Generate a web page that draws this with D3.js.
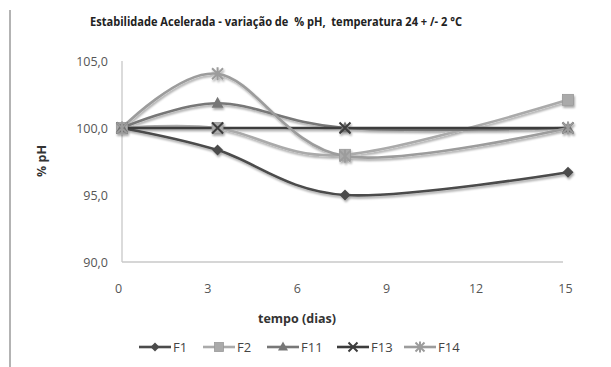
<!DOCTYPE html>
<html><head><meta charset="utf-8">
<script src="https://cdn.jsdelivr.net/npm/d3@7"></script>
<style>
html,body{margin:0;padding:0;background:#fff;}
svg{display:block;font-family:"Open Sans","Liberation Sans",sans-serif;}
</style></head>
<body>
<svg id="c" width="611" height="367"></svg>
<script>
const days = [0, 3, 7, 14];
const F1  = [100, 98.35, 95.0, 96.7];
const F2  = [100, 100, 98.0, 102.1];
const F11 = [100, 101.85, 100, 100];
const F13 = [100, 100, 100, 100];
const F14 = [100, 104.05, 97.9, 100];
const seriesNames = ["F1", "F2", "F11", "F13", "F14"];
const xTicks = [0, 3, 6, 9, 12, 15];
const yTicks = [90, 95, 100, 105];
const titleText = "Estabilidade Acelerada - variação de  % pH,  temperatura 24 + /- 2 °C";

const seriesValues = [F1, F2, F11, F13, F14];
const colors = ["#4b4b4b", "#aaaaaa", "#777777", "#3c3c3c", "#9c9c9c"];
const symbols = ["diamond", "square", "triangle", "x", "asterisk"];

const svg = d3.select("#c");
const defs = svg.append("defs");
const f = defs.append("filter").attr("id","sh").attr("x","-50%").attr("y","-50%").attr("width","200%").attr("height","200%");
f.append("feGaussianBlur").attr("in","SourceAlpha").attr("stdDeviation",1.2).attr("result","b");
f.append("feOffset").attr("in","b").attr("dx",1).attr("dy",1.5).attr("result","o");
f.append("feComponentTransfer").attr("in","o").attr("result","o2").append("feFuncA").attr("type","linear").attr("slope",0.35);
const m = f.append("feMerge"); m.append("feMergeNode").attr("in","o2"); m.append("feMergeNode").attr("in","SourceGraphic");

// left border
svg.append("line").attr("x1",10).attr("x2",10).attr("y1",10).attr("y2",367).attr("stroke","#9a9a9a").attr("stroke-width",1.5);

const x = d3.scaleLinear().domain([0, 14]).range([122, 568]);
const xAxisScale = d3.scaleLinear().domain([0, 15]).range([118, 565]);
const y = d3.scaleLinear().domain([90, 105]).range([262, 61]);

// axes lines
svg.append("line").attr("x1",122).attr("x2",563).attr("y1",y(90)).attr("y2",y(90)).attr("stroke","#c8c8c8").attr("stroke-width",1.3);
svg.append("line").attr("x1",122).attr("x2",122).attr("y1",y(90)).attr("y2",y(105)).attr("stroke","#c8c8c8").attr("stroke-width",1.3);

// x axis labels
const xa = svg.append("g").attr("transform",`translate(0,${y(90)})`)
  .call(d3.axisBottom(xAxisScale).tickValues(xTicks).tickSize(0).tickPadding(22).tickFormat(d3.format("d")));
xa.select(".domain").remove();
xa.selectAll("text").attr("fill","#555").style("font-size","12.5px").style("font-family","'Open Sans','Liberation Sans',sans-serif");

// y axis labels
const ya = svg.append("g").attr("transform","translate(108,0)")
  .call(d3.axisLeft(y).tickValues(yTicks).tickSize(0).tickPadding(0).tickFormat(d => d3.format(".1f")(d).replace(".", ",")));
ya.select(".domain").remove();
ya.selectAll("text").attr("fill","#555").style("font-size","12.5px").style("font-family","'Open Sans','Liberation Sans',sans-serif");

// title
svg.append("text").attr("x",276).attr("y",26).attr("text-anchor","middle")
  .attr("textLength",372).attr("lengthAdjust","spacingAndGlyphs")
  .style("white-space","pre")
  .style("font-size","11.5px").style("font-weight","bold").attr("fill","#222").text(titleText);

// axis titles
svg.append("text").attr("x",297).attr("y",323).attr("text-anchor","middle")
  .style("font-size","12.5px").style("font-weight","bold").attr("fill","#333").text("tempo (dias)");
svg.append("text").attr("transform","translate(46,161) rotate(-90)").attr("text-anchor","middle")
  .style("font-size","12.5px").style("font-weight","bold").attr("fill","#333").text("% pH");

function drawMarker(g, type, cx, cy, color, s) {
  if (type === "diamond") {
    g.append("path").attr("d",`M${cx},${cy-s}L${cx+s},${cy}L${cx},${cy+s}L${cx-s},${cy}Z`).attr("fill",color);
  } else if (type === "square") {
    g.append("rect").attr("x",cx-s).attr("y",cy-s).attr("width",2*s).attr("height",2*s).attr("fill",color).attr("stroke","#999").attr("stroke-width",0.8);
  } else if (type === "triangle") {
    g.append("path").attr("d",`M${cx},${cy-s-1}L${cx+s+0.5},${cy+s-1}L${cx-s-0.5},${cy+s-1}Z`).attr("fill",color);
  } else if (type === "x") {
    g.append("path").attr("d",`M${cx-s},${cy-s}L${cx+s},${cy+s}M${cx+s},${cy-s}L${cx-s},${cy+s}`).attr("stroke",color).attr("stroke-width",2);
  } else if (type === "asterisk") {
    g.append("path").attr("d",`M${cx-s},${cy-s}L${cx+s},${cy+s}M${cx+s},${cy-s}L${cx-s},${cy+s}M${cx},${cy-s-1}L${cx},${cy+s+1}`).attr("stroke",color).attr("stroke-width",2);
  }
}

const line = d3.line().x(d => x(d[0])).y(d => y(d[1])).curve(d3.curveCardinal.tension(0));
const plot = svg.append("g").attr("filter","url(#sh)");
seriesValues.forEach((vals, i) => {
  const pts = days.map((d, j) => [d, vals[j]]);
  plot.append("path").datum(pts).attr("d", line).attr("fill","none")
    .attr("stroke", colors[i]).attr("stroke-width", 2.6);
});
seriesValues.forEach((vals, i) => {
  days.forEach((d, j) => drawMarker(plot, symbols[i], x(d), y(vals[j]), colors[i], 5.5));
});

// legend
const legendX = [139, 203, 267, 337, 404];
const lg = svg.append("g");
seriesNames.forEach((n, i) => {
  const lx = legendX[i], ly = 347;
  lg.append("line").attr("x1",lx).attr("x2",lx+32).attr("y1",ly).attr("y2",ly).attr("stroke",colors[i]).attr("stroke-width",2.6);
  drawMarker(lg, symbols[i], lx+16, ly, colors[i], 4.5);
  lg.append("text").attr("x",lx+34).attr("y",ly+4.5).style("font-size","13px").attr("fill","#444").text(n);
});
</script>
</body></html>
